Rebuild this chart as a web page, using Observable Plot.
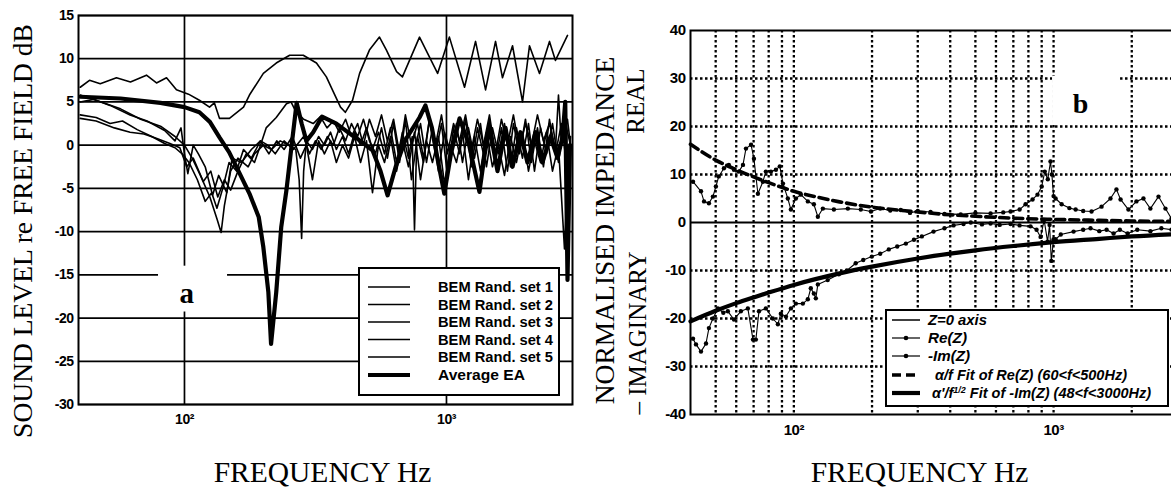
<!DOCTYPE html>
<html><head><meta charset="utf-8">
<script src="https://cdn.jsdelivr.net/npm/d3@7"></script>
<script src="https://cdn.jsdelivr.net/npm/@observablehq/plot@0.6"></script>
<style>
html,body{margin:0;padding:0;background:#fff;overflow:hidden;width:1171px;height:489px;}
#root{position:relative;width:1171px;height:489px;overflow:hidden;background:#fff;}
#root svg{position:absolute;top:0;}
</style></head>
<body><div id="root"></div>
<script>
// ---------------- Panel a data: frequency (Hz), level (dB re free field) ----------------
const set1 = [[40,5.8],[48,5.0],[57,4.2],[68,3.0],[81,2.2],[92,1.0],[100,0],[107,-1.5],[115,-3.5],[125,-6],[133,-8.5],[138,-10.1],[142,-7],[150,-3],[160,-1.5],[175,-2.5],[185,-1],[200,0],[215,-0.5],[232,0.5],[250,0],[266,-0.5],[274,-4],[280,-10.8],[285,-3],[292,0.5],[308,-0.5],[325,1],[342,0],[361,1.5],[380,-0.5],[401,1],[423,-1],[446,1.5],[470,0],[495,2],[522,-0.5],[550,1.5],[580,-1],[611,2],[645,-2],[679,1.5],[716,-1.5],[740,1],[755,-9.8],[770,0.5],[796,2.5],[839,-2],[884,2],[932,-3],[983,1.5],[1036,-1],[1092,2.5],[1151,-2],[1213,2],[1279,-1.5],[1348,2.5],[1421,-2.5],[1498,2],[1579,-1],[1665,2.5],[1755,-2.5],[1850,2],[1950,-1.5],[2056,2.5],[2167,-3],[2285,2],[2408,-1],[2539,2.5],[2676,-2],[2821,3],[2974,0]];
const set2 = [[40,5.0],[45,5.3],[52,4.6],[62,3.5],[72,2.8],[84,1.7],[92,0.5],[97,2.0],[100,-1],[103,-3.3],[108,0],[113,-1],[120,-2.5],[128,-5.8],[135,-3.5],[145,-5.5],[152,-1.5],[165,-2],[180,-0.5],[195,0.5],[208,0],[222,-1],[240,0.5],[260,-0.5],[285,1],[300,-1],[316,0.5],[333,-0.5],[351,1],[370,0],[390,2],[412,0.5],[434,2.5],[458,1],[482,3],[508,0.5],[536,-1],[565,2],[595,-1.5],[628,2.5],[662,-2],[697,3],[735,-4],[775,1],[817,-2],[861,3],[908,-1],[957,2.5],[1009,-3.5],[1064,2],[1121,-1],[1182,3],[1246,-2.5],[1313,2],[1384,-1],[1459,3],[1538,-2],[1621,2],[1709,-3],[1801,2.5],[1899,-1],[2002,3],[2110,-2],[2225,2],[2345,-2.5],[2472,3],[2606,-1],[2747,2.5],[2896,-3],[2974,1]];
const set3 = [[40,3.5],[46,3.2],[52,2.5],[58,2.8],[66,1.8],[75,1.0],[84,0.2],[92,-0.3],[98,-1.0],[104,-2.0],[112,-4.0],[120,-6.5],[127,-5.5],[133,-7.3],[140,-5],[148,-2.0],[158,-3],[168,-0.5],[180,-1.5],[195,0.5],[210,-1.0],[225,0.5],[240,-0.5],[258,1],[277,-1.5],[292,0],[308,-4],[325,0.5],[342,-1],[361,0.5],[380,-2],[401,0],[423,-1.5],[446,1],[470,-2],[495,0.5],[522,-5.5],[550,0],[580,-2],[611,1],[645,-3],[679,0.5],[716,-2.5],[755,1.5],[796,-4],[839,0.5],[884,-2],[932,1],[983,-4.5],[1036,0],[1092,-2],[1151,1.5],[1213,-4],[1279,1],[1348,-3],[1421,1.5],[1498,-2.5],[1579,0],[1665,-3.5],[1755,1],[1850,-2],[1950,1.5],[2056,-3],[2167,0.5],[2285,-2],[2408,1.5],[2539,-3],[2676,0],[2821,-12],[2896,-4],[2974,-1]];
const set4 = [[40,3.1],[46,2.8],[54,2.0],[62,1.5],[70,1.3],[78,0.8],[88,0.2],[96,-0.3],[102,-2.5],[108,-1.5],[118,-4.2],[126,-3.0],[134,-6.0],[142,-4.0],[150,-5.2],[160,-3.0],[172,-1.0],[185,-2.0],[195,0.0],[205,2.0],[224,3.2],[245,4.8],[255,5.0],[265,4.0],[285,3.0],[310,2.5],[330,3.3],[350,2.0],[370,2.8],[390,1.5],[412,3.0],[434,1.0],[458,2.5],[482,0],[508,3],[536,1],[565,3.5],[595,0.5],[628,3],[662,-1],[697,3.5],[735,0],[775,2.5],[817,-1.5],[861,3],[908,0],[957,3.5],[1009,-1],[1064,2.5],[1121,0.5],[1182,3.5],[1246,-0.5],[1313,3],[1384,0],[1459,3.5],[1538,-1],[1621,3],[1709,0],[1801,3.5],[1899,-0.5],[2002,2.5],[2110,0],[2225,3.5],[2345,0.5],[2472,2.5],[2606,-0.5],[2676,5.8],[2747,0],[2896,3],[2974,0]];
const set5 = [[40,6.7],[43.4,7.5],[47.7,7.1],[55,7.8],[62.2,7.3],[71.6,8.1],[78.2,7.2],[85.4,7.8],[93.2,6.4],[103.6,5.9],[114,5.2],[124.6,4.4],[130,4.9],[136,3.1],[148.5,3.1],[168,4.4],[177,5.8],[200,8.3],[224,9.5],[252,10.4],[284,10.4],[319,9.5],[348,7.9],[367,6.4],[394,4.4],[411,3.8],[438,5.2],[466,8.3],[508,11],[555,12.5],[590,11],[645,8.5],[679,7.9],[789,12.5],[925,8.3],[1026,12.5],[1172,6.7],[1291,12],[1410,6.4],[1539,12],[1636,7.8],[1787,11.5],[1951,5.0],[2074,11.5],[2265,8.3],[2473,12],[2606,9.8],[2897,12.7]];
const averageEA = [[40,5.6],[57,5.4],[81,4.9],[100,4.4],[114,3.8],[125,2.7],[136,0.9],[148,-0.8],[162,-3.2],[177,-5.6],[192,-8.3],[200,-11.8],[209,-17],[214,-23],[224,-17],[234,-9.5],[245,-5.2],[256,-0.2],[268,4.9],[280,2.5],[292,0.5],[310,1.5],[335,3.3],[380,2.5],[420,1.5],[450,0.9],[522,-0.6],[560,-3],[596,-5.8],[640,-2.5],[697,0.6],[789,3.2],[831,4.6],[880,2],[930,-2],[981,-5.6],[1040,-1],[1122,3.1],[1220,0],[1336,-5.4],[1400,-1],[1459,2.1],[1566,-3],[1680,2],[1787,-2.5],[1915,1.5],[2037,-2],[2187,1.5],[2324,-2],[2493,1],[2655,-1.5],[2775,1],[2840,5],[2897,-15.6],[2960,0]];
const seriesA = [set1, set2, set3, set4, set5];
const seriesNamesA = ["BEM Rand. set 1","BEM Rand. set 2","BEM Rand. set 3","BEM Rand. set 4","BEM Rand. set 5","Average EA"];
const xDomainA = [39.4, 3027];
const yDomainA = [-30, 15];
const yTicksA = [-30,-25,-20,-15,-10,-5,0,5,10,15];
const xTicksA = [100, 1000];

// ---------------- Panel b data: frequency (Hz), normalised impedance ----------------
const reZ = [[40.9,8.5],[43.9,6.5],[45.1,4.4],[47.1,4.0],[48.8,5.4],[50.1,7.5],[51.4,9.6],[53.8,11.3],[56.2,12],[58.8,11],[61.4,10.6],[63.7,12],[65.4,15.4],[68.4,16.2],[70.2,13.3],[72.7,6],[76,8.5],[78,10.6],[81.6,10.6],[85.3,11],[88.3,11.7],[90.8,8.1],[94.8,5],[97.4,2.7],[101.8,5],[106.4,5.8],[113.2,4.4],[119.4,3.8],[123.7,1.2],[129.3,2.9],[142.6,2.7],[161.4,2.9],[181,2.7],[198,2.3],[215,2.9],[235,2.5],[258,2.6],[280,2.0],[300,2.4],[336,2.2],[380,1.8],[439,1.7],[500,2.0],[572,1.9],[640,2.1],[683,2.3],[740,2.7],[780,3.8],[830,4.8],[867,5.8],[900,7.5],[925,10.6],[950,9],[973,12.7],[985,10],[1000,5.5],[1018,5],[1074,3.8],[1150,3],[1216,2.7],[1300,2.4],[1400,2.3],[1530,3.3],[1656,5],[1746,6.9],[1811,4.8],[1942,2.7],[2084,4.4],[2218,5],[2359,2.9],[2535,5.4],[2696,2.9],[2844,0.8],[2950,3]];
const negImZ = [[40.9,-24.2],[42,-25.4],[43.9,-26.9],[45.9,-25.2],[47.1,-22],[48.8,-20],[51,-17.9],[53.5,-18.8],[55.7,-18.5],[58.8,-20.2],[62.5,-18.5],[66.5,-17.9],[69.6,-24.4],[71.4,-24.4],[73.4,-18.5],[78,-17.9],[83,-20],[86.8,-21.2],[89.1,-19],[93.2,-19.6],[97.4,-17.9],[101.8,-16.9],[108.3,-16.9],[113.2,-16],[116.2,-13.7],[119.4,-14.8],[121.5,-15.8],[123.7,-12.9],[135,-12],[149,-10.8],[160,-10],[173,-8.5],[185,-7.8],[199.6,-7.1],[215,-6.5],[232,-5.6],[250,-5],[270,-4.4],[290,-3.6],[311,-2.9],[345,-1.9],[380,-1.2],[412,-0.6],[450,-0.3],[480,0],[530,-0.4],[572,-0.2],[620,-0.5],[683,-0.3],[740,-0.6],[815,-0.8],[860,-1.5],[891,-3],[920,0.5],[948,-4],[965,-0.5],[980,-8],[1000,-3.5],[1018,-3.5],[1066,-2.5],[1194,-1.9],[1300,-1.5],[1387,-1.2],[1500,-1.8],[1600,-1.5],[1702,-2.3],[1800,-1.5],[1928,-2.3],[2100,-1.5],[2359,-1.8],[2600,-1.2],[2844,-1.5]];
const reFit = [[40,16.3],[50,13],[60,11],[70,9.5],[80,8.3],[100,6.5],[125,5.2],[150,4.3],[200,3.2],[250,2.6],[300,2.2],[400,1.6],[500,1.3],[700,0.9],[1000,0.65],[1500,0.45],[2000,0.32],[3000,0.22]];
const imFit = [[40,-20.6],[50,-18.4],[60,-16.8],[70,-15.6],[80,-14.6],[100,-13.0],[150,-10.6],[200,-9.2],[300,-7.5],[400,-6.5],[500,-5.8],[700,-4.9],[1000,-4.1],[1500,-3.4],[2000,-2.9],[3000,-2.4]];
const xDomainB = [40, 3000];
const yDomainB = [-40, 40];
const yTicksB = [-40,-30,-20,-10,0,10,20,30,40];
const yGridB = [-30,-20,-10,10,20,30];
const xGridB = [50,60,70,80,90,100,200,300,400,500,600,700,800,900,1000,2000];
const xTicksB = [100, 1000];
const legendNamesB = ["Z=0 axis","Re(Z)","-Im(Z)"];

// ---------------- helpers ----------------
const sup = {2: "\u00B2", 3: "\u00B3"};
const decadeFmt = d => "10" + sup[Math.round(Math.log10(d))];
const F = d => d[0], V = d => d[1];
const serif = "Liberation Serif, Times New Roman, serif";
const sans = "Liberation Sans, Arial, sans-serif";
const gridSolid = {stroke: "#000", strokeOpacity: 1, strokeWidth: 1.7};
const gridDot = {stroke: "#000", strokeOpacity: 1, strokeWidth: 2.3, strokeDasharray: "2.5,2.5"};

function styleTicks(svg, size) {
  d3.select(svg).selectAll('g[aria-label*="axis"] text')
    .style("font-size", size + "px").style("font-weight", "bold").style("font-family", sans)
    .style("letter-spacing", "-0.5px");
}

// ---------------- Panel a ----------------
const plotA = Plot.plot({
  width: 590, height: 489,
  marginLeft: 78, marginRight: 18, marginTop: 15, marginBottom: 85,
  style: {background: "transparent"},
  x: {type: "log", domain: xDomainA},
  y: {domain: yDomainA},
  marks: [
    Plot.gridY(yTicksA, gridSolid),
    Plot.gridX(xTicksA, gridSolid),
    Plot.rect([0], {x1: 79.6, x2: 146, y1: -14.0, y2: -19.3, fill: "#fff"}),
    Plot.text(["a"], {x: 102, y: -17.2, fontFamily: serif, fontSize: 29, fontWeight: "bold", lineAnchor: "middle"}),
    ...seriesA.map(s => Plot.line(s, {x: F, y: V, stroke: "#000", strokeWidth: 1.6, strokeLinejoin: "round"})),
    Plot.line(averageEA, {x: F, y: V, stroke: "#000", strokeWidth: 4.2, strokeLinejoin: "round", strokeLinecap: "round"}),
    Plot.frame({stroke: "#000", strokeWidth: 2}),
    Plot.axisY(yTicksA, {tickSize: 0, tickPadding: 5, tickFormat: d => String(d), label: null}),
    Plot.axisX(xTicksA, {tickSize: 0, tickPadding: 10, tickFormat: decadeFmt, label: null}),
    Plot.text(["SOUND LEVEL re FREE FIELD dB"], {frameAnchor: "left", rotate: -90, dx: -55, dy: 21, textAnchor: "middle", lineAnchor: "middle", fontFamily: serif, fontSize: 27.5}),
    Plot.text(["FREQUENCY Hz"], {frameAnchor: "bottom", dx: -3, dy: 68, textAnchor: "middle", lineAnchor: "middle", fontFamily: serif, fontSize: 29.5})
  ]
});
plotA.style.left = "0px";
styleTicks(plotA, 14);

// legend a
{
  const g = d3.select(plotA).append("g").attr("text-anchor", "start");
  g.append("rect").attr("x", 359).attr("y", 268).attr("width", 200).attr("height", 127)
    .attr("fill", "#fff").attr("stroke", "#000").attr("stroke-width", 2);
  const rowsY = [287, 304.5, 322, 339.5, 357, 375];
  seriesNamesA.forEach((name, i) => {
    const thick = i === 5;
    g.append("line").attr("x1", 368).attr("x2", 410).attr("y1", rowsY[i]).attr("y2", rowsY[i])
      .attr("stroke", "#000").attr("stroke-width", thick ? 4.2 : 1.6);
    g.append("text").attr("x", 438).attr("y", rowsY[i] + 5).attr("text-anchor", "start")
      .attr("font-family", sans).attr("font-weight", "bold").attr("font-size", 14.5)
      .attr("textLength", thick ? 87 : 115).attr("lengthAdjust", "spacingAndGlyphs")
      .text(name);
  });
}

// ---------------- Panel b ----------------
const plotB = Plot.plot({
  width: 600, height: 489,
  marginLeft: 100, marginRight: 13, marginTop: 30, marginBottom: 75,
  style: {background: "transparent"},
  x: {type: "log", domain: xDomainB},
  y: {domain: yDomainB},
  marks: [
    Plot.gridX(xGridB, gridDot),
    Plot.gridY(yGridB, gridDot),
    Plot.ruleY([0], {stroke: "#000", strokeWidth: 1.8}),
    Plot.rect([0], {x1: 991, x2: 1811, y1: 20.5, y2: 30.5, fill: "#fff"}),
    Plot.text(["b"], {x: 1270, y: 24.6, fontFamily: serif, fontSize: 28, fontWeight: "bold", lineAnchor: "middle"}),
    Plot.line(reFit, {x: F, y: V, stroke: "#000", strokeWidth: 3.6, strokeDasharray: "9,5", curve: "monotone-x"}),
    Plot.line(imFit, {x: F, y: V, stroke: "#000", strokeWidth: 4.2, curve: "monotone-x"}),
    Plot.line(reZ, {x: F, y: V, stroke: "#000", strokeWidth: 1.1}),
    Plot.dot(reZ, {x: F, y: V, r: 2.2, fill: "#000", stroke: "none"}),
    Plot.line(negImZ, {x: F, y: V, stroke: "#000", strokeWidth: 1.1}),
    Plot.dot(negImZ, {x: F, y: V, r: 2.2, fill: "#000", stroke: "none"}),
    Plot.frame({stroke: "#000", strokeWidth: 2}),
    Plot.axisY(yTicksB, {tickSize: 0, tickPadding: 5, tickFormat: d => String(d), label: null}),
    Plot.axisX(xTicksB, {tickSize: 0, tickPadding: 10, tickFormat: decadeFmt, label: null}),
    Plot.text(["NORMALISED IMPEDANCE"], {frameAnchor: "left", rotate: -90, dx: -85, dy: 8, textAnchor: "middle", lineAnchor: "middle", fontFamily: serif, fontSize: 27.5}),
    Plot.text(["REAL"], {frameAnchor: "left", rotate: -90, dx: -55, dy: -121.5, textAnchor: "middle", lineAnchor: "middle", fontFamily: serif, fontSize: 25}),
    Plot.text(["\u2013 IMAGINARY"], {frameAnchor: "left", rotate: -90, dx: -52.5, dy: 110.5, textAnchor: "middle", lineAnchor: "middle", fontFamily: serif, fontSize: 25}),
    Plot.text(["FREQUENCY Hz"], {frameAnchor: "bottom", dx: -14.5, dy: 58, textAnchor: "middle", lineAnchor: "middle", fontFamily: serif, fontSize: 29.5})
  ]
});
plotB.style.left = "590px";
styleTicks(plotB, 15);

// legend b
{
  const g = d3.select(plotB).append("g").attr("text-anchor", "start");
  g.append("rect").attr("x", 296).attr("y", 310).attr("width", 282).attr("height", 96)
    .attr("fill", "#fff").attr("stroke", "#000").attr("stroke-width", 2);
  const rowsY = [320, 338, 356, 375, 393];
  const txt = (y, x) => g.append("text").attr("x", x).attr("y", y + 5).attr("text-anchor", "start")
      .attr("font-family", sans).attr("font-weight", "bold").attr("font-style", "italic").attr("font-size", 14);
  g.append("line").attr("x1", 302).attr("x2", 330).attr("y1", rowsY[0]).attr("y2", rowsY[0]).attr("stroke", "#000").attr("stroke-width", 1.5);
  txt(rowsY[0], 338).attr("textLength", 59).attr("lengthAdjust", "spacingAndGlyphs").text(legendNamesB[0]);
  [1, 2].forEach(i => {
    g.append("line").attr("x1", 302).attr("x2", 330).attr("y1", rowsY[i]).attr("y2", rowsY[i]).attr("stroke", "#000").attr("stroke-width", 1.2);
    g.append("circle").attr("cx", 316).attr("cy", rowsY[i]).attr("r", 2.3).attr("fill", "#000");
    txt(rowsY[i], 338).attr("textLength", i === 1 ? 39 : 42).attr("lengthAdjust", "spacingAndGlyphs").text(legendNamesB[i]);
  });
  g.append("line").attr("x1", 302).attr("x2", 330).attr("y1", rowsY[3]).attr("y2", rowsY[3]).attr("stroke", "#000").attr("stroke-width", 3.6).attr("stroke-dasharray", "9,5");
  txt(rowsY[3], 345).attr("textLength", 192).attr("lengthAdjust", "spacingAndGlyphs").text("\u03B1/f Fit of Re(Z) (60<f<500Hz)");
  g.append("line").attr("x1", 302).attr("x2", 330).attr("y1", rowsY[4]).attr("y2", rowsY[4]).attr("stroke", "#000").attr("stroke-width", 4.2);
  const t5 = txt(rowsY[4], 342).attr("font-size", 14.5);
  t5.append("tspan").text("\u03B1'/f");
  t5.append("tspan").attr("dy", -5).attr("font-size", 9).text("1/2");
  t5.append("tspan").attr("dy", 5).text(" Fit of -Im(Z) (48<f<3000Hz)");
}

document.getElementById("root").append(plotA, plotB);
</script>
</body></html>
